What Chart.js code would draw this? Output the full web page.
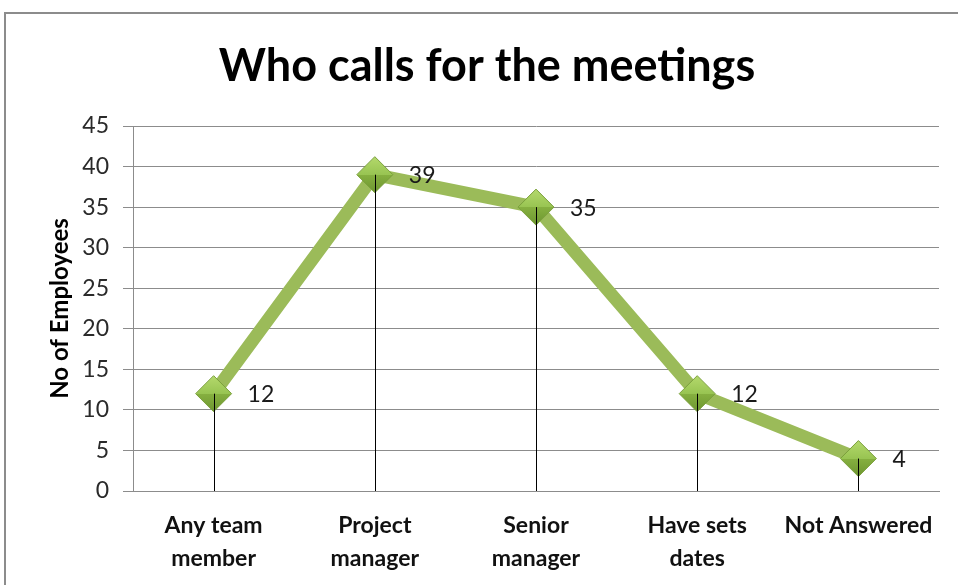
<!DOCTYPE html>
<html>
<head>
<meta charset="utf-8">
<script src="https://cdn.jsdelivr.net/npm/chart.js@4"></script>
<style>
  html, body { margin: 0; padding: 0; background: #fff; overflow: hidden; }
  #wrap { position: relative; width: 958px; height: 585px; }
  #frame { position: absolute; left: 4px; top: 12px; width: 1000px; height: 700px; border: 2px solid #8c8c8c; box-sizing: border-box; }
  #box { position: absolute; left: 0; top: 0; width: 958px; height: 585px; }
</style>
</head>
<body>
<div id="wrap">
  <div id="frame"></div>
  <div id="box"><canvas id="chart"></canvas></div>
</div>
<script>
// Dados do gráfico
const categorias = [['Any team', 'member'], ['Project', 'manager'], ['Senior', 'manager'], ['Have sets', 'dates'], 'Not Answered'];
const funcionarios = [12, 39, 35, 12, 4];
const titulo = 'Who calls for the meetings';
const tituloEixoY = 'No of Employees';

const FONTE = 'Lato, "Noto Sans", sans-serif';

// linhas verticais até o eixo + rótulos de valor
const dropLines = {
  id: 'dropLines',
  afterDatasetsDraw(chart) {
    const ctx = chart.ctx;
    const meta = chart.getDatasetMeta(0);
    const base = chart.scales.y.getPixelForValue(0);
    ctx.save();
    ctx.strokeStyle = '#000';
    ctx.lineWidth = 1;
    meta.data.forEach(pt => {
      const x = Math.round(pt.x) + 0.5;
      ctx.beginPath();
      ctx.moveTo(x, pt.y);
      ctx.lineTo(x, base);
      ctx.stroke();
    });
    ctx.fillStyle = '#1a1a1a';
    ctx.font = '23px ' + FONTE;
    ctx.textAlign = 'left';
    ctx.textBaseline = 'middle';
    meta.data.forEach((pt, i) => {
      ctx.fillText(String(funcionarios[i]), pt.x + 34, pt.y + 1);
    });
    ctx.restore();
  }
};

function corMarcador(c) {
  const chart = c.chart;
  if (!chart.chartArea || c.raw === undefined) return '#9bbb59';
  const y = chart.scales.y.getPixelForValue(c.raw);
  const g = chart.ctx.createLinearGradient(0, y - 18, 0, y + 18);
  g.addColorStop(0, '#b4d96c');
  g.addColorStop(0.5, '#98c452');
  g.addColorStop(0.5, '#86b040');
  g.addColorStop(1, '#6d9630');
  return g;
}

new Chart(document.getElementById('chart'), {
  type: 'line',
  data: {
    labels: categorias,
    datasets: [{
      data: funcionarios,
      borderColor: '#9bbb59',
      borderWidth: 13,
      tension: 0,
      pointStyle: 'rectRot',
      pointRadius: 18,
      pointHoverRadius: 18,
      pointBackgroundColor: corMarcador,
      pointBorderColor: '#7a9f3c',
      pointBorderWidth: 1
    }]
  },
  options: {
    responsive: true,
    maintainAspectRatio: false,
    animation: false,
    layout: { padding: { left: 34, right: 18, top: 0, bottom: 0 } },
    plugins: {
      legend: { display: false },
      tooltip: { enabled: false },
      title: {
        display: true,
        text: titulo,
        color: '#000',
        font: { family: FONTE, size: 45, weight: 'bold', lineHeight: 1.2 },
        padding: { top: 39, bottom: 33 }
      }
    },
    scales: {
      x: {
        offset: true,
        grid: { display: false, drawTicks: false },
        border: { display: true, color: '#8c8c8c', width: 1 },
        ticks: {
          color: '#111',
          padding: 18,
          maxRotation: 0,
          autoSkip: false,
          font: { family: FONTE, size: 23, weight: 'bold', lineHeight: 1.45 }
        },
        afterFit(s) { s.height = 94; }
      },
      y: {
        min: 0,
        max: 45,
        ticks: {
          stepSize: 5,
          color: '#2a2a2a',
          padding: 14,
          font: { family: FONTE, size: 23 }
        },
        grid: { color: '#8c8c8c', lineWidth: 1, tickLength: 10 },
        border: { display: true, color: '#8c8c8c' },
        title: {
          display: true,
          text: tituloEixoY,
          color: '#000',
          padding: { top: 12, bottom: 0 },
          font: { family: FONTE, size: 24, weight: 'bold', lineHeight: 1.2 }
        },
        afterFit(s) { s.width = 99; }
      }
    }
  },
  plugins: [dropLines]
});
</script>
</body>
</html>
